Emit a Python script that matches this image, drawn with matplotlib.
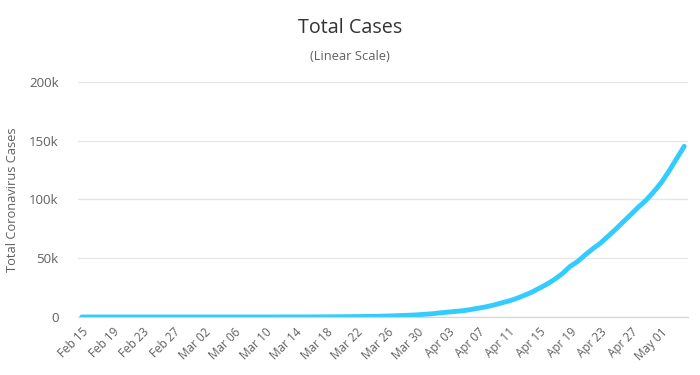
import matplotlib
matplotlib.use("Agg")
import matplotlib.pyplot as plt
import numpy as np
import pandas as pd
from matplotlib.ticker import FuncFormatter

plt.rcParams['font.family'] = ['Open Sans', 'DejaVu Sans']

# cumulative cases, Feb 15 .. May 04
dates = pd.date_range("2020-02-15", "2020-05-04", freq="D")
cases = [2] * 16 + [
    3, 3, 3, 4, 10, 14, 17, 17, 20, 28,
    34, 45, 59, 63, 90, 114, 147, 199, 253, 306,
    367, 438, 495, 658, 840, 1036, 1264, 1534, 1836, 2337,
    2777, 3548, 4149, 4731, 5389, 6343, 7497, 8672, 10131, 11917,
    13584, 15770, 18328, 21102, 24490, 27938, 32008, 36793, 42853, 47121,
    52763, 57999, 62773, 68622, 74588, 80949, 87147, 93558, 99399, 106498,
    114431, 124054, 134687, 145268,
]
tick_labels = [d.strftime("%b %d") for d in dates[::4]]
y_ticks = [0, 50000, 100000, 150000, 200000]

fig = plt.figure(figsize=(7, 3.75), dpi=100)
ax = fig.add_axes([78 / 700, 1 - 317 / 375, 610 / 700, 235 / 375])

x = np.arange(len(cases))
ax.plot(x, cases, color="#33ccff", lw=3.5, solid_capstyle="round")

ax.set_xlim(-0.5, len(cases) - 0.5)
ax.set_ylim(0, 200000)
ax.set_yticks(y_ticks)
ax.yaxis.set_major_formatter(FuncFormatter(lambda v, p: "0" if v == 0 else f"{int(v/1000)}k"))
ax.set_xticks(x[::4])
ax.set_xticklabels(tick_labels, rotation=45, ha="right", rotation_mode="anchor")

ax.grid(axis="y", color="#e6e6e6", lw=1)
ax.set_axisbelow(True)
for s in ["top", "right", "left"]:
    ax.spines[s].set_visible(False)
ax.spines["bottom"].set_color("#ccd6eb")
ax.tick_params(length=0, colors="#606060")
ax.tick_params(axis="x", pad=6, labelsize=8.5)
ax.tick_params(axis="y", pad=14, labelsize=9.5)

ax.set_ylabel("Total Coronavirus Cases", color="#606060", fontsize=9.3, labelpad=7)
fig.text(0.5, 1 - 28 / 375, "Total Cases", ha="center", va="center", fontsize=14.2, color="#333333")
fig.text(0.5, 1 - 57 / 375, "(Linear Scale)", ha="center", va="center", fontsize=9.3, color="#606060")

fig.savefig("out.png", dpi=100)
